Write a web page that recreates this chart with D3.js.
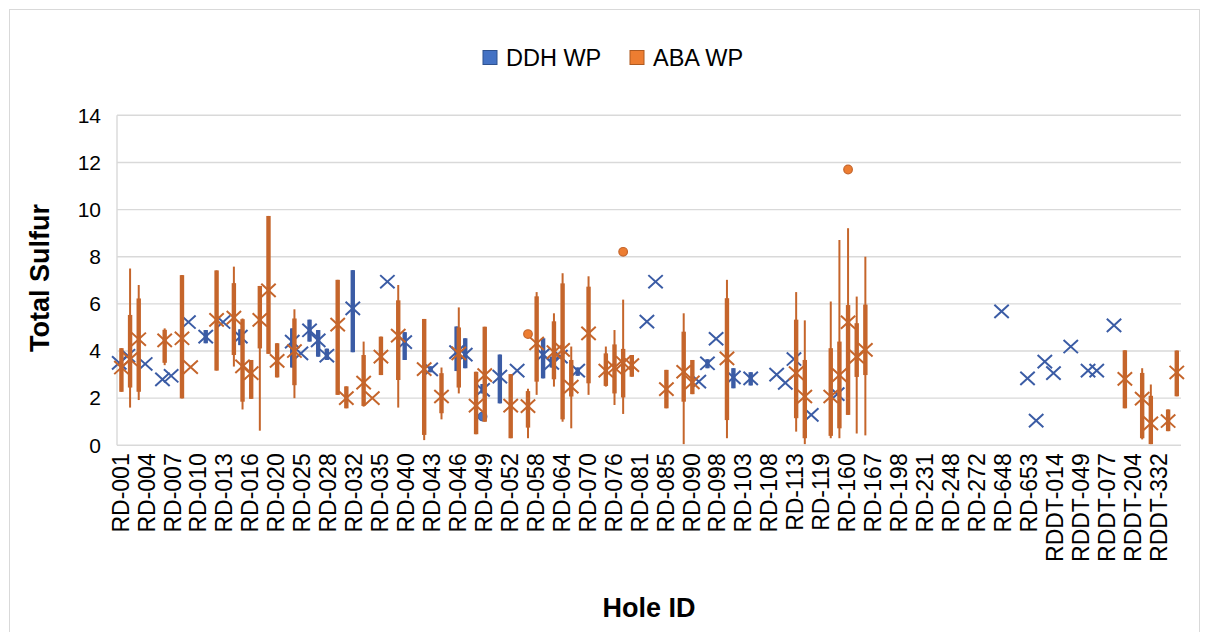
<!DOCTYPE html>
<html><head><meta charset="utf-8">
<script src="https://cdn.jsdelivr.net/npm/d3@7"></script>
<style>
body{margin:0;background:#fff}
svg{display:block;font-family:Arial,"Liberation Sans",sans-serif}
</style>
</head><body>
<svg id="chart" width="1208" height="632"></svg>
<script>
// ---- categories (only every third hole ID is labelled in the source) ----
const categories = [
 "RD-001","","","RD-004","","","RD-007","","","RD-010","","","RD-013","","","RD-016","","",
 "RD-020","","","RD-025","","","RD-028","","","RD-032","","","RD-035","","","RD-040","","",
 "RD-043","","","RD-046","","","RD-049","","","RD-052","","","RD-058","","","RD-064","","",
 "RD-070","","","RD-076","","","RD-081","","","RD-085","","","RD-090","","","RD-098","","",
 "RD-103","","","RD-108","","","RD-113","","","RD-119","","","RD-160","","","RD-167","","",
 "RD-198","","","RD-231","","","RD-248","","","RD-272","","","RD-648","","","RD-653","","",
 "RDDT-014","","","RDDT-049","","","RDDT-077","","","RDDT-204","","","RDDT-332","",""
];
const yTicks = [0, 2, 4, 6, 8, 10, 12, 14];
const seriesNames = ["DDH WP", "ABA WP"];

// ---- DDH WP (box statistics per category position) ----
const ddhPos  = [0,1,3,5,6,8,10,12,14,20,21,22,23,24,27,31,33,36,39,40,42,44,46,49,50,51,53,61,62,67,68,69,71,73,76,77,78,80,83,102,105,106,107,108,110,112,113,115];
const ddhMin  = [3.5,3.8,3.45,2.8,2.95,5.23,4.33,5.23,4.25,3.3,3.9,4.4,3.76,3.62,3.95,6.94,3.62,3.1,3.15,3.27,2.2,1.78,3.17,2.84,3.3,3.76,2.95,5.25,6.94,2.7,3.27,4.52,2.42,2.54,3.0,2.65,3.66,1.29,2.17,5.68,2.84,1.05,3.55,3.06,4.19,3.17,3.17,5.09];
const ddhQ1   = [3.5,3.8,3.45,2.8,2.95,5.23,4.33,5.23,4.25,3.3,3.9,4.4,3.76,3.62,3.95,6.94,3.62,3.1,3.15,3.27,2.2,1.78,3.17,2.84,3.3,3.76,2.95,5.25,6.94,2.7,3.27,4.52,2.42,2.54,3.0,2.65,3.66,1.29,2.17,5.68,2.84,1.05,3.55,3.06,4.19,3.17,3.17,5.09];
const ddhQ3   = [3.5,3.8,3.45,2.8,2.95,5.23,4.89,5.23,4.92,4.96,3.9,5.33,4.89,4.1,7.43,6.94,4.8,3.35,5.04,4.54,2.6,3.85,3.17,4.54,3.76,3.76,3.3,5.25,6.94,2.7,3.65,4.52,3.27,3.1,3.0,2.65,3.66,1.29,2.17,5.68,2.84,1.05,3.55,3.06,4.19,3.17,3.17,5.09];
const ddhMax  = [3.5,3.8,3.45,2.8,2.95,5.23,4.89,5.23,4.92,4.96,3.9,5.33,4.89,4.1,7.43,6.94,4.8,3.35,5.04,4.54,2.6,3.85,3.17,4.54,3.76,3.76,3.3,5.25,6.94,2.7,3.65,4.52,3.27,3.1,3.0,2.65,3.66,1.29,2.17,5.68,2.84,1.05,3.55,3.06,4.19,3.17,3.17,5.09];
const ddhMean = [3.5,3.8,3.45,2.8,2.95,5.23,4.61,5.23,4.61,4.4,3.9,4.88,4.45,3.8,5.81,6.94,4.38,3.22,3.95,3.85,2.35,2.91,3.17,3.85,3.5,3.76,3.17,5.25,6.94,2.7,3.48,4.52,2.88,2.84,3.0,2.65,3.66,1.29,2.17,5.68,2.84,1.05,3.55,3.06,4.19,3.17,3.17,5.09];
const ddhOutlierPos = [42];
const ddhOutlierVal = [1.22];

// ---- ABA WP ----
const abaPos  = [0,1,2,5,7,8,11,13,14,15,16,17,18,20,25,26,28,29,30,32,35,37,39,41,42,45,47,48,50,51,52,54,56,57,58,59,63,65,66,70,78,79,82,83,84,85,86,116,118,119,121,122];
const abaMin  = [2.27,1.6,1.92,3.4,1.99,3.32,3.17,3.34,1.52,1.97,0.62,3.88,2.88,2.0,2.14,1.57,1.64,2.0,2.98,1.6,0.22,1.1,2.2,0.47,1.0,0.3,0.3,2.14,2.49,1.0,0.72,2.14,2.49,1.71,1.33,2.91,1.57,0.05,2.17,0.3,0.58,0.05,0.3,0.3,1.29,0.5,0.42,1.57,0.25,0.05,0.6,2.08];
const abaQ1   = [2.27,2.45,2.27,3.5,1.99,3.32,3.17,3.83,1.85,1.97,4.11,3.88,2.88,2.55,2.14,1.57,1.67,2.0,2.98,2.77,0.44,1.36,2.45,0.47,1.0,0.3,0.75,2.7,2.8,1.1,2.07,2.63,2.52,2.2,2.03,2.91,1.57,1.85,2.17,1.07,1.15,0.3,0.4,0.72,1.29,2.9,2.98,1.57,0.3,0.05,0.6,2.08];
const abaQ3   = [4.12,5.53,6.23,4.9,7.22,3.32,7.42,6.88,5.35,3.62,6.76,9.73,4.33,5.38,7.02,2.5,3.83,2.0,4.61,6.15,5.36,3.06,5.0,3.12,5.03,3.02,2.3,6.32,5.26,6.87,3.62,6.73,3.9,4.28,4.09,3.83,3.2,4.82,3.62,6.24,5.33,3.62,4.12,4.4,5.95,5.18,5.97,4.03,3.07,2.1,1.52,4.02];
const abaMax  = [4.12,7.5,6.8,4.96,7.22,3.32,7.42,7.58,5.38,3.62,6.76,9.73,4.33,5.77,7.02,2.5,4.4,2.0,4.61,6.8,5.36,3.3,5.85,3.12,5.03,3.02,2.4,6.5,5.6,7.3,4.19,7.17,4.19,4.89,6.18,3.83,3.2,5.6,3.62,7.02,6.5,5.3,6.1,8.71,9.21,6.31,8.0,4.03,3.27,2.58,1.52,4.02];
const abaMean = [3.3,3.65,4.5,4.45,4.54,3.32,5.32,5.42,3.35,3.06,5.32,6.57,3.58,4.0,5.12,2.0,2.66,2.0,3.76,4.65,3.23,2.07,3.9,1.68,2.98,1.68,1.66,4.32,3.95,4.05,2.49,4.75,3.17,3.3,3.5,3.4,2.38,3.12,2.67,3.69,3.06,2.07,2.07,2.98,5.22,3.76,4.05,2.82,1.98,0.93,1.03,3.09];
const abaOutlierPos = [47,58,84];
const abaOutlierVal = [4.72,8.21,11.7];

// ---- styling ----
const markColor   = {"DDH WP": "#3B5CA5", "ABA WP": "#C5652B"};
const legendFill  = {"DDH WP": "#4472C4", "ABA WP": "#ED7D31"};
const legendEdge  = {"DDH WP": "#2F528F", "ABA WP": "#AE5A21"};

function buildSeries(name, pos, mn, q1, q3, mx, mean, oPos, oVal) {
  return {
    name,
    boxes: pos.map((p, i) => ({pos: p, min: mn[i], q1: q1[i], q3: q3[i], max: mx[i], mean: mean[i]})),
    outliers: oPos.map((p, i) => ({pos: p, v: oVal[i]}))
  };
}
const series = [
  buildSeries("DDH WP", ddhPos, ddhMin, ddhQ1, ddhQ3, ddhMax, ddhMean, ddhOutlierPos, ddhOutlierVal),
  buildSeries("ABA WP", abaPos, abaMin, abaQ1, abaQ3, abaMax, abaMean, abaOutlierPos, abaOutlierVal)
];

const svg = d3.select("#chart");
const plot = {left: 117, right: 1181, top: 115.3, bottom: 445.3};

// chart border
svg.append("rect").attr("x", 9.5).attr("y", 9.5).attr("width", 1190).attr("height", 640)
  .attr("fill", "#fff").attr("stroke", "#d9d9d9").attr("stroke-width", 1);

const x = d3.scaleBand().domain(d3.range(categories.length)).range([116, 1180]).padding(0);
const xs = d3.scaleBand().domain(seriesNames)
  .range([x.bandwidth() / 2 - 2.2, x.bandwidth() / 2 + 2.2]);
const y = d3.scaleLinear().domain([0, 14]).range([plot.bottom, plot.top]);

// gridlines
svg.append("g").selectAll("line").data(yTicks).join("line")
  .attr("x1", plot.left).attr("x2", plot.right)
  .attr("y1", d => y(d)).attr("y2", d => y(d))
  .attr("stroke", "#d9d9d9").attr("stroke-width", 1.4);
svg.append("line").attr("x1", plot.left).attr("x2", plot.left)
  .attr("y1", plot.top).attr("y2", plot.bottom)
  .attr("stroke", "#d9d9d9").attr("stroke-width", 1.4);

// y axis labels
const yAxis = svg.append("g").attr("transform", `translate(${plot.left},0)`)
  .call(d3.axisLeft(y).tickValues(yTicks).tickSize(0).tickPadding(16));
yAxis.select(".domain").remove();
yAxis.selectAll("text").attr("font-size", 21).attr("fill", "#000")
  .attr("font-family", "Arial, 'Liberation Sans', sans-serif");

// x axis labels
const xAxis = svg.append("g").attr("transform", `translate(0,${plot.bottom})`)
  .call(d3.axisBottom(x).tickValues(d3.range(categories.length).filter(i => categories[i] !== ""))
    .tickFormat(i => categories[i]).tickSize(0));
xAxis.select(".domain").remove();
xAxis.selectAll("text")
  .attr("transform", "rotate(-90)")
  .attr("x", -8).attr("y", 0).attr("dy", "0.36em")
  .style("text-anchor", "end")
  .attr("font-size", 23).attr("fill", "#000")
  .attr("font-family", "Arial, 'Liberation Sans', sans-serif");

// series marks
series.forEach(s => {
  const col = markColor[s.name];
  const cx = d => x(d.pos) + xs(s.name) + xs.bandwidth() / 2;
  const g = svg.append("g");
  g.selectAll("line.whisker").data(s.boxes.filter(d => d.max > d.min)).join("line")
    .attr("class", "whisker")
    .attr("x1", cx).attr("x2", cx)
    .attr("y1", d => y(d.max)).attr("y2", d => y(d.min))
    .attr("stroke", col).attr("stroke-width", 2);
  g.selectAll("rect.box").data(s.boxes.filter(d => d.q3 > d.q1)).join("rect")
    .attr("class", "box")
    .attr("x", d => cx(d) - 2.2).attr("width", 4.4)
    .attr("y", d => y(d.q3)).attr("height", d => y(d.q1) - y(d.q3))
    .attr("fill", col);
  g.selectAll("path.mean").data(s.boxes).join("path")
    .attr("class", "mean")
    .attr("d", d => {
      const px = cx(d), py = y(d.mean), h = 7.2, v = 6.6;
      return `M${px - h},${py - v}L${px + h},${py + v}M${px - h},${py + v}L${px + h},${py - v}`;
    })
    .attr("stroke", col).attr("stroke-width", 2).attr("fill", "none");
  g.selectAll("circle.out").data(s.outliers).join("circle")
    .attr("class", "out")
    .attr("cx", cx).attr("cy", d => y(d.v)).attr("r", 4.3)
    .attr("fill", legendFill[s.name]).attr("stroke", col).attr("stroke-width", 1.2);
});

// legend
const legend = svg.append("g");
const legendX = [483, 630];
seriesNames.forEach((n, i) => {
  legend.append("rect").attr("x", legendX[i]).attr("y", 50.5).attr("width", 14).attr("height", 14)
    .attr("fill", legendFill[n]).attr("stroke", legendEdge[n]).attr("stroke-width", 1);
  legend.append("text").attr("x", legendX[i] + 23).attr("y", 58).attr("dy", "0.35em")
    .attr("font-size", 23.5).attr("fill", "#000").text(n);
});

// axis titles
svg.append("text").attr("transform", "translate(40,278) rotate(-90)")
  .attr("text-anchor", "middle").attr("dy", "0.35em")
  .attr("font-size", 27).attr("font-weight", "bold").text("Total Sulfur");
svg.append("text").attr("x", 649).attr("y", 608).attr("dy", "0.35em")
  .attr("text-anchor", "middle")
  .attr("font-size", 27).attr("font-weight", "bold").text("Hole ID");
</script>
</body></html>
